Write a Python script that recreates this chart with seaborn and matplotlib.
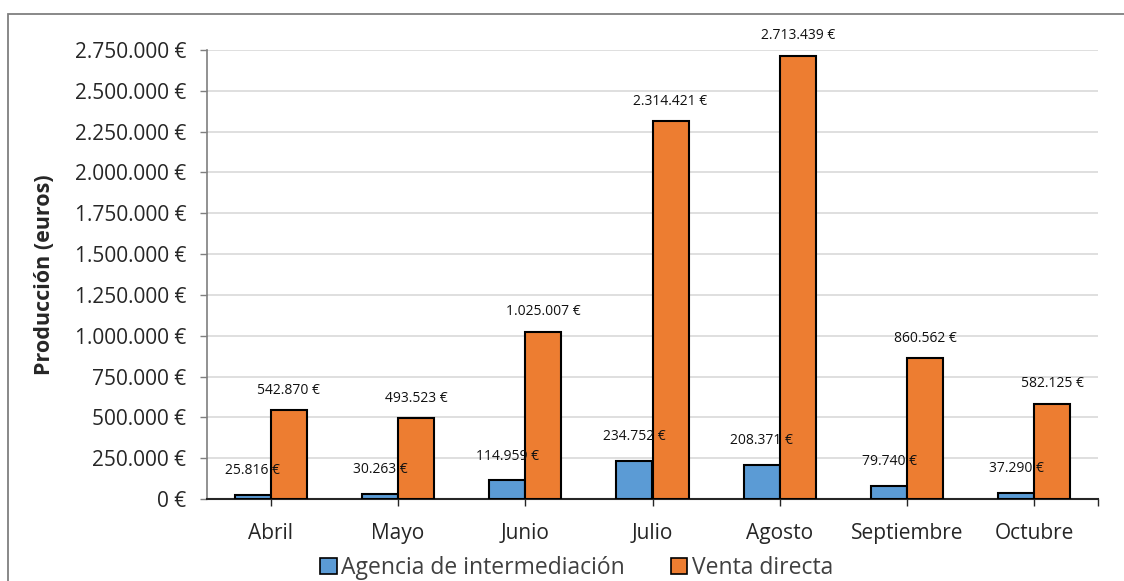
import matplotlib
matplotlib.use("Agg")
import matplotlib.pyplot as plt
import matplotlib.patches as mpatches
import seaborn as sns
import pandas as pd

months = ["Abril", "Mayo", "Junio", "Julio", "Agosto", "Septiembre", "Octubre"]
agencia = [25816, 30263, 114959, 234752, 208371, 79740, 37290]
venta = [542870, 493523, 1025007, 2314421, 2713439, 860562, 582125]
series = ["Agencia de intermediación", "Venta directa"]
colors = ["#5B9BD5", "#ED7D31"]
yticks = list(range(0, 2750001, 250000))

def fmt(v):
    return f"{v:,.0f}".replace(",", ".") + " €"

df = pd.DataFrame({
    "mes": months * 2,
    "serie": [series[0]] * len(months) + [series[1]] * len(months),
    "valor": agencia + venta,
})

sns.set_theme(style="white")
plt.rcParams["font.family"] = ["Open Sans", "DejaVu Sans"]

fig = plt.figure(figsize=(11.24, 5.81), dpi=100)
ax = fig.add_axes([207/1124, 1 - 499/581, (1098 - 207)/1124, (499 - 50)/581])

sns.barplot(data=df, x="mes", y="valor", hue="serie", palette=colors,
            width=0.567, edgecolor="black", linewidth=1.5, ax=ax,
            legend=False, saturation=1, zorder=3)

ax.set_xlim(-0.5, len(months) - 0.5)
ax.set_ylim(0, 2750000)
ax.set_yticks(yticks)
ax.set_yticklabels([fmt(v) for v in yticks], fontsize=15, color="#262626")
ax.yaxis.grid(True, color="#d9d9d9", linewidth=1.2, zorder=0)
ax.set_axisbelow(True)
ax.set_xlabel("")
ax.set_ylabel("Producción (euros)", fontsize=15.5, fontweight="bold",
              color="#262626", labelpad=14)
ax.tick_params(axis="x", labelsize=15, colors="#262626", length=5,
               width=1, direction="out", pad=12, bottom=True)
ax.tick_params(axis="y", length=5, width=1, direction="out", color="#7f7f7f",
               left=True, pad=10)
ax.set_xticks(range(len(months)))
ax.set_xticks([len(months) - 0.5], minor=True)
ax.tick_params(axis="x", which="minor", length=5, width=1, color="#262626",
               bottom=True)

for s in ["top", "right"]:
    ax.spines[s].set_visible(False)
ax.spines["left"].set_color("#7f7f7f")
ax.spines["left"].set_linewidth(1.2)
ax.spines["bottom"].set_color("#262626")
ax.spines["bottom"].set_linewidth(1.5)

# data labels
for container, vals, dy in zip(ax.containers, [agencia, venta], [12, 9]):
    ax.bar_label(container, labels=[fmt(v) for v in vals], padding=dy,
                 fontsize=10, color="#111111", zorder=5)

handles = [mpatches.Patch(facecolor=c, edgecolor="black", linewidth=1.2, label=l)
           for c, l in zip(colors, series)]
fig.legend(handles=handles, loc="center", bbox_to_anchor=(0.513, 1 - 568/581),
           ncol=2, frameon=False, fontsize=16.5, handlelength=0.72, handleheight=0.72,
           handletextpad=0.2, columnspacing=2.0, labelcolor="#404040")

border = mpatches.Rectangle((8/1124, -0.05), 1.2, 1 - 14/581 + 0.05,
                            transform=fig.transFigure, fill=False,
                            edgecolor="#7f7f7f", linewidth=1.3)
fig.patches.append(border)

fig.savefig("out.png", dpi=100)
